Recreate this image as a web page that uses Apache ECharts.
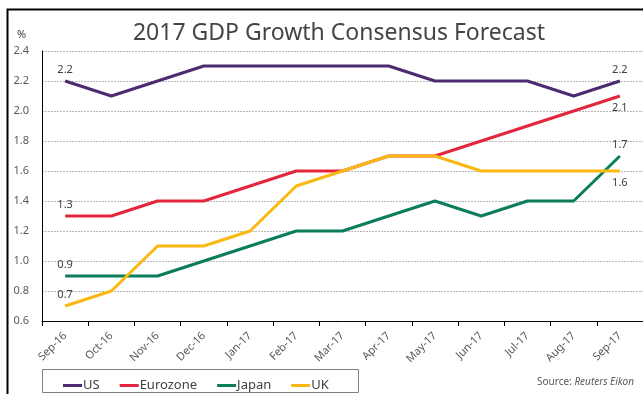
<!DOCTYPE html>
<html><head><meta charset="utf-8">
<script src="https://cdn.jsdelivr.net/npm/echarts@6/dist/echarts.min.js"></script>
<style>html,body{margin:0;padding:0;background:#fff}#c{width:643px;height:394px}</style>
</head><body><div id="c"></div>
<script>
const categories = ['Sep-16','Oct-16','Nov-16','Dec-16','Jan-17','Feb-17','Mar-17','Apr-17','May-17','Jun-17','Jul-17','Aug-17','Sep-17'];
const us       = [2.2,2.1,2.2,2.3,2.3,2.3,2.3,2.3,2.2,2.2,2.2,2.1,2.2];
const eurozone = [1.3,1.3,1.4,1.4,1.5,1.6,1.6,1.7,1.7,1.8,1.9,2.0,2.1];
const japan    = [0.9,0.9,0.9,1.0,1.1,1.2,1.2,1.3,1.4,1.3,1.4,1.4,1.7];
const uk       = [0.7,0.8,1.1,1.1,1.2,1.5,1.6,1.7,1.7,1.6,1.6,1.6,1.6];
const yTicks = [0.6,0.8,1.0,1.2,1.4,1.6,1.8,2.0,2.2,2.4];

const chart = echarts.init(document.getElementById('c'));
const font = 'Noto Sans';
function mk(name, values, color, lastPos) {
  const n = values.length;
  return {
    name, type: 'line', symbol: 'circle', symbolSize: 0, showSymbol: true,
    lineStyle: {color, width: 3}, itemStyle: {color},
    data: values.map((v, i) => {
      if (i === 0) return {value: v, label: {show: true, position: 'top', distance: 6}};
      if (i === n - 1) return {value: v, label: {show: true, position: lastPos, distance: 6}};
      return v;
    }),
    label: {show: false, color: '#404040', fontSize: 11, fontFamily: font, formatter: p => p.value.toFixed(1)}
  };
}
chart.setOption({
  animation: false,
  title: {text: '2017 GDP Growth Consensus Forecast', left: 334, textAlign: 'center', top: 17,
    textStyle: {fontFamily: font, fontWeight: 'normal', fontSize: 23, color: '#454545'}},
  grid: {left: 42, top: 51, width: 605, height: 270},
  legend: {left: 58, top: 374, itemWidth: 19, itemHeight: 3, itemGap: 20, icon: 'rect',
    textStyle: {fontFamily: font, fontSize: 13, color: '#404040', padding: [0,0,0,-4]},
    data: ['US','Eurozone','Japan','UK']},
  xAxis: {type: 'category', data: categories, boundaryGap: true,
    axisLine: {lineStyle: {color: '#000', width: 1}},
    axisTick: {show: true, length: 5, lineStyle: {color: '#000'}},
    axisLabel: {rotate: 45, fontFamily: font, fontSize: 11, color: '#595959', margin: 13, interval: 0}},
  yAxis: {type: 'value', min: yTicks[0], max: yTicks[yTicks.length-1], interval: 0.2,
    axisLine: {show: true, lineStyle: {color: '#000'}},
    axisTick: {show: false},
    splitLine: {lineStyle: {color: '#b8b8b8', type: [2,1], width: 1}},
    axisLabel: {fontFamily: font, fontSize: 11, color: '#595959', margin: 13, formatter: v => v.toFixed(1)}},
  graphic: [
    {type: 'polyline', shape: {points: [[7.5,394],[7.5,9.5],[643,9.5]]}, style: {stroke: '#000', lineWidth: 2, fill: null}},
    {type: 'text', left: 17, top: 29, style: {text: '%', font: '11px "Noto Sans"', fill: '#404040'}},
    {type: 'rect', shape: {x: 42.5, y: 369.5, width: 316, height: 23}, style: {stroke: '#808080', lineWidth: 1, fill: null}},
    {type: 'text', right: 9, top: 377, style: {
      text: '{n|Source: }{i|Reuters Eikon}',
      rich: {n: {fontFamily: font, fontSize: 10, fill: '#595959'}, i: {fontFamily: font, fontSize: 10, fontStyle: 'italic', fill: '#595959'}}}}
  ],
  series: [
    mk('US', us, '#4b2c70', 'top'),
    mk('Eurozone', eurozone, '#e3263c', 'bottom'),
    mk('Japan', japan, '#0b7d5d', 'top'),
    mk('UK', uk, '#fbb812', 'bottom')
  ]
});
</script></body></html>
